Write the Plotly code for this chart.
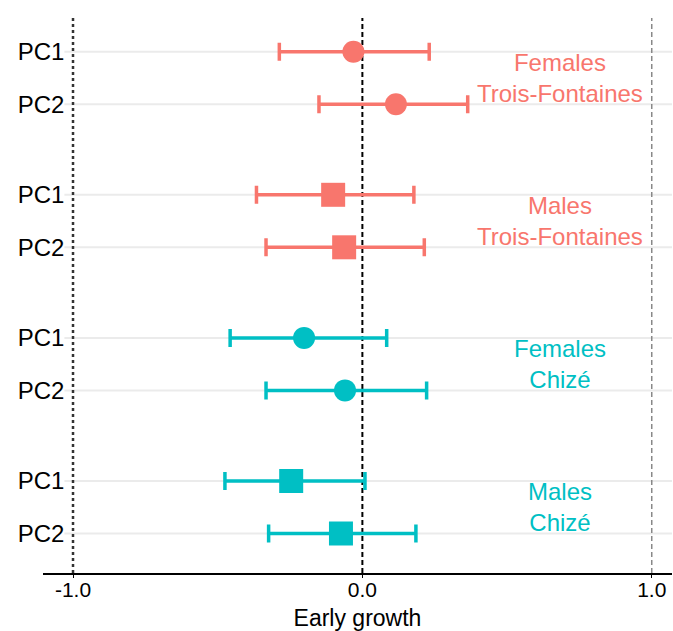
import plotly.graph_objects as go

# ---- data ----
groups = ["Females<br>Trois-Fontaines", "Males<br>Trois-Fontaines",
          "Females<br>Chizé", "Males<br>Chizé"]
group_colors = ["#F8766D", "#F8766D", "#00BFC4", "#00BFC4"]
group_symbols = ["circle", "square", "circle", "square"]
pcs = ["PC1", "PC2"]
estimates = [[-0.031, 0.116], [-0.101, -0.063], [-0.2015, -0.060], [-0.246, -0.074]]
lower = [[-0.287, -0.150], [-0.366, -0.333], [-0.457, -0.333], [-0.475, -0.324]]
upper = [[0.231, 0.364], [0.178, 0.214], [0.084, 0.222], [0.009, 0.185]]
x_ticks = [-1.0, 0.0, 1.0]
x_ticktext = ["-1.0", "0.0", "1.0"]
ref_lines = [-1.0, 0.0, 1.0]

# layout spacing (units of the y axis)
PAIR_GAP = 143.1
ROW_GAP = 52.5

FONT = "Liberation Sans, Arial, sans-serif"

fig = go.Figure()
tickvals, ticktext = [], []
for g, name in enumerate(groups):
    ys = [g * PAIR_GAP + k * ROW_GAP for k in range(len(pcs))]
    est = estimates[g]
    fig.add_trace(go.Scatter(
        x=est, y=ys, mode="markers",
        marker=dict(symbol=group_symbols[g], color=group_colors[g],
                    size=22 if group_symbols[g] == "circle" else 24,
                    line=dict(width=0)),
        error_x=dict(type="data", symmetric=False,
                     array=[u - e for u, e in zip(upper[g], est)],
                     arrayminus=[e - l for e, l in zip(est, lower[g])],
                     color=group_colors[g], thickness=3.5, width=9),
        showlegend=False, hoverinfo="skip"))
    tickvals += ys
    ticktext += pcs
    fig.add_annotation(x=0.683, y=sum(ys) / len(ys), text=name, showarrow=False,
                       font=dict(family=FONT, size=24, color=group_colors[g]),
                       xanchor="center", yanchor="middle", align="center")

# horizontal gridlines
for yv in tickvals:
    fig.add_shape(type="line", xref="paper", x0=0.034, x1=1, yref="y", y0=yv, y1=yv,
                  line=dict(color="#EBEBEB", width=2), layer="below")

# vertical reference lines
ref_styles = [dict(color="#333333", width=2.5, dash="3px,3px"),
              dict(color="#000000", width=2, dash="5px,3px"),
              dict(color="#888888", width=1.5, dash="5px,3px")]
for xv, st in zip(ref_lines, ref_styles):
    fig.add_shape(type="line", xref="x", x0=xv, x1=xv, yref="paper", y0=0, y1=1,
                  line=st, layer="below")

fig.update_layout(
    width=673, height=631,
    margin=dict(l=43, r=1, t=18, b=58),
    plot_bgcolor="white", paper_bgcolor="white",
    font=dict(family=FONT, color="black"),
    xaxis=dict(range=[-1.1037, 1.070], tickvals=x_ticks, ticktext=x_ticktext,
               showgrid=False, zeroline=False, showline=True, linecolor="black",
               linewidth=1.5, ticks="outside", ticklen=3, tickcolor="black",
               ticklabelstandoff=-6,
               tickfont=dict(size=21, family=FONT, color="black"),
               title=dict(text="Early growth", font=dict(size=23, family=FONT),
                          standoff=12)),
    yaxis=dict(range=[555 - 33.7, -33.7],
               tickvals=tickvals, ticktext=ticktext, showgrid=False,
               zeroline=False, showline=False, ticks="",
               anchor="free", position=0.034,
               tickfont=dict(size=24, family=FONT, color="black")),
)

fig.write_html("out.html")
